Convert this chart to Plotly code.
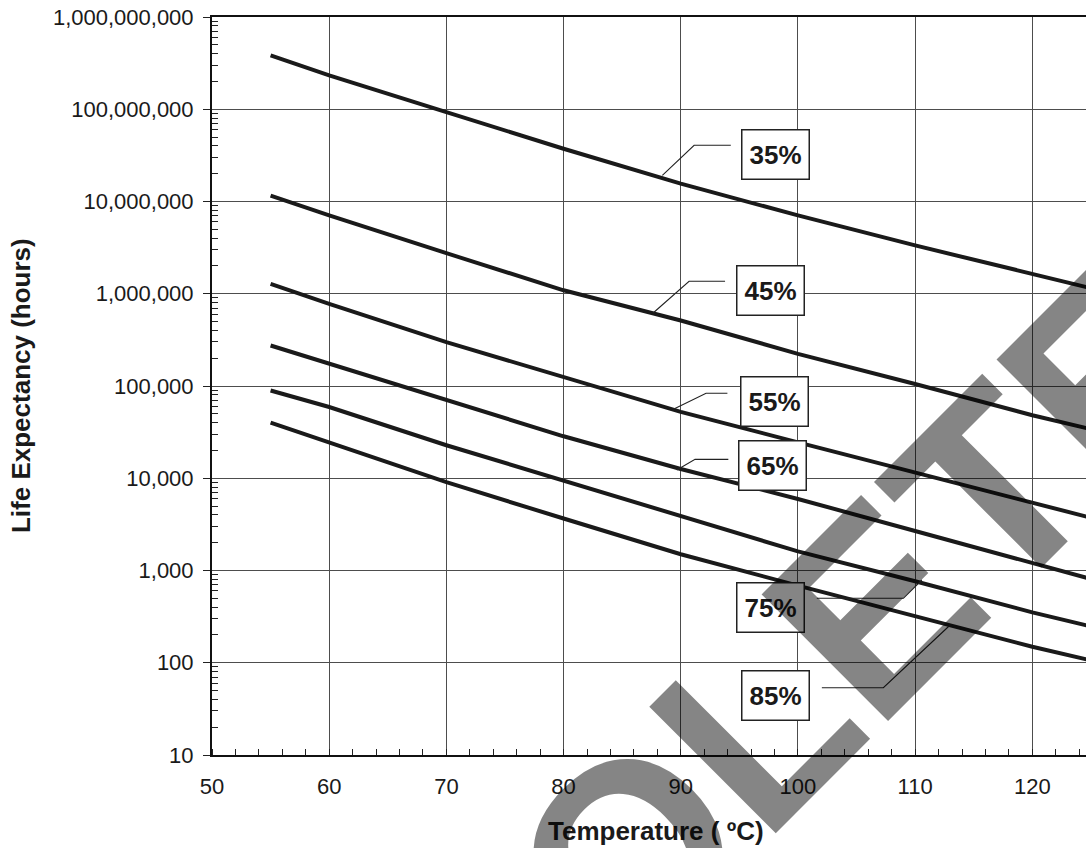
import plotly.graph_objects as go

# ---------------- data ----------------
temps = [55, 60, 70, 80, 90, 100, 110, 120, 125]
life_35 = [3.84e8, 2.33e8, 9.3e7, 3.73e7, 1.56e7, 7.07e6, 3.34e6, 1.63e6, 1.15e6]
life_45 = [1.16e7, 7.07e6, 2.75e6, 1.09e6, 5.13e5, 2.23e5, 1.05e5, 4.82e4, 3.4e4]
life_55 = [1.28e6, 7.77e5, 2.99e5, 1.25e5, 5.24e4, 2.45e4, 1.16e4, 5.53e3, 3.73e3]
life_65 = [2.75e5, 1.74e5, 6.97e4, 2.85e4, 1.26e4, 5.96e3, 2.68e3, 1.21e3, 8.1e2]
life_75 = [8.94e4, 5.92e4, 2.28e4, 9.35e3, 3.88e3, 1.61e3, 7.64e2, 3.52e2, 2.48e2]
life_85 = [4.0e4, 2.42e4, 9.06e3, 3.66e3, 1.5e3, 6.86e2, 3.21e2, 1.49e2, 1.06e2]
series_labels = ["35%", "45%", "55%", "65%", "75%", "85%"]

x_tick_vals = [50, 60, 70, 80, 90, 100, 110, 120]
x_tick_text = ["50", "60", "70", "80", "90", "100", "110", "120"]
y_tick_vals = [10, 100, 1000, 10000, 100000, 1000000, 10000000, 100000000, 1000000000]
y_tick_text = ["10", "100", "1,000", "10,000", "100,000", "1,000,000",
               "10,000,000", "100,000,000", "1,000,000,000"]

# label boxes: (temperature, log10 hours)
label_x = [98.12, 97.68, 97.97, 97.82, 97.69, 98.12]
label_logy = [7.513, 6.038, 4.834, 4.138, 2.604, 1.64]
# leader lines (temperature list, log10 hours list)
leader_x = [[94.27, 91.14, 88.43], [93.78, 90.71, 87.64], [93.98, 92.16, 89.37],
            [94.06, 91.22, 89.66], [101.61, 109.0, 110.57], [102.04, 107.29, 112.99]]
leader_logy = [[7.609, 7.609, 7.284], [6.135, 6.135, 5.791], [4.921, 4.921, 4.747],
               [4.205, 4.205, 4.089], [2.699, 2.699, 2.897], [1.729, 1.729, 2.409]]

FONT = "Liberation Sans, Arial, Helvetica, sans-serif"
INK = "#1a1a1a"

fig = go.Figure()
for vals in [life_35, life_45, life_55, life_65, life_75, life_85]:
    fig.add_trace(go.Scatter(x=temps, y=vals, mode="lines",
                             line=dict(color=INK, width=4), showlegend=False,
                             hoverinfo="skip"))

for lx, ly in zip(leader_x, leader_logy):
    fig.add_trace(go.Scatter(x=lx, y=[10 ** v for v in ly], mode="lines",
                             line=dict(color="#222222", width=1.1), showlegend=False,
                             hoverinfo="skip"))

annotations = []
for txt, ax, ay in zip(series_labels, label_x, label_logy):
    annotations.append(dict(x=ax, y=ay, xref="x", yref="y", text="<b>%s</b>" % txt,
                            showarrow=False, font=dict(family=FONT, size=26, color=INK),
                            bgcolor="white", bordercolor="#222222", borderwidth=1.5,
                            width=66, height=48, borderpad=0))

# axis titles
annotations.append(dict(x=0.508, y=-0.1035, xref="paper", yref="paper",
                        xanchor="center", yanchor="middle",
                        text="<b>Temperature ( ºC)</b>", showarrow=False,
                        font=dict(family=FONT, size=26, color=INK)))
annotations.append(dict(x=-0.2185, y=0.5, xref="paper", yref="paper",
                        xanchor="center", yanchor="middle",
                        text="<b>Life Expectancy (hours)</b>", showarrow=False,
                        textangle=-90, font=dict(family=FONT, size=26, color=INK)))

# watermark
annotations.append(dict(x=0.5167, y=-0.0851, xref="paper", yref="paper",
                        xanchor="center", yanchor="middle",
                        text="<b>OBSOLETE</b>", showarrow=False, textangle=-45,
                        font=dict(family=FONT, size=260, color="rgba(0,0,0,0.48)")))

y_minor = [m * 10 ** e for e in range(1, 9) for m in range(2, 10)]

fig.update_layout(
    width=1086, height=848,
    margin=dict(l=212, r=0, t=17, b=93),
    paper_bgcolor="white", plot_bgcolor="white",
    font=dict(family=FONT, size=22, color=INK),
    annotations=annotations,
    showlegend=False,
)
fig.update_xaxes(
    range=[50, 124.58], tickvals=x_tick_vals, ticktext=x_tick_text,
    showgrid=True, gridcolor="#4d4d4d", gridwidth=1.2,
    showline=True, linecolor="#111111", linewidth=2, mirror=True,
    ticks="", ticklabelstandoff=11,
    tickfont=dict(family=FONT, size=22, color=INK),
    minor=dict(dtick=2, ticks="inside", ticklen=6, tickwidth=1.2, tickcolor="#222222",
               showgrid=False),
    zeroline=False,
)
fig.update_yaxes(
    type="log", range=[1, 9], tickvals=y_tick_vals, ticktext=y_tick_text,
    showgrid=True, gridcolor="#4d4d4d", gridwidth=1.2,
    showline=True, linecolor="#111111", linewidth=2,
    ticks="outside", ticklen=7, tickwidth=1.2, tickcolor="#222222",
    ticklabelstandoff=5,
    tickfont=dict(family=FONT, size=22, color=INK),
    minor=dict(tickmode="array", tickvals=y_minor, ticks="inside", ticklen=6,
               tickwidth=1.2, tickcolor="#222222", showgrid=False),
    zeroline=False,
)

fig.write_html("out.html", config={"displayModeBar": False},
               post_script="document.body.style.margin='0px';document.body.style.overflow='hidden';")
